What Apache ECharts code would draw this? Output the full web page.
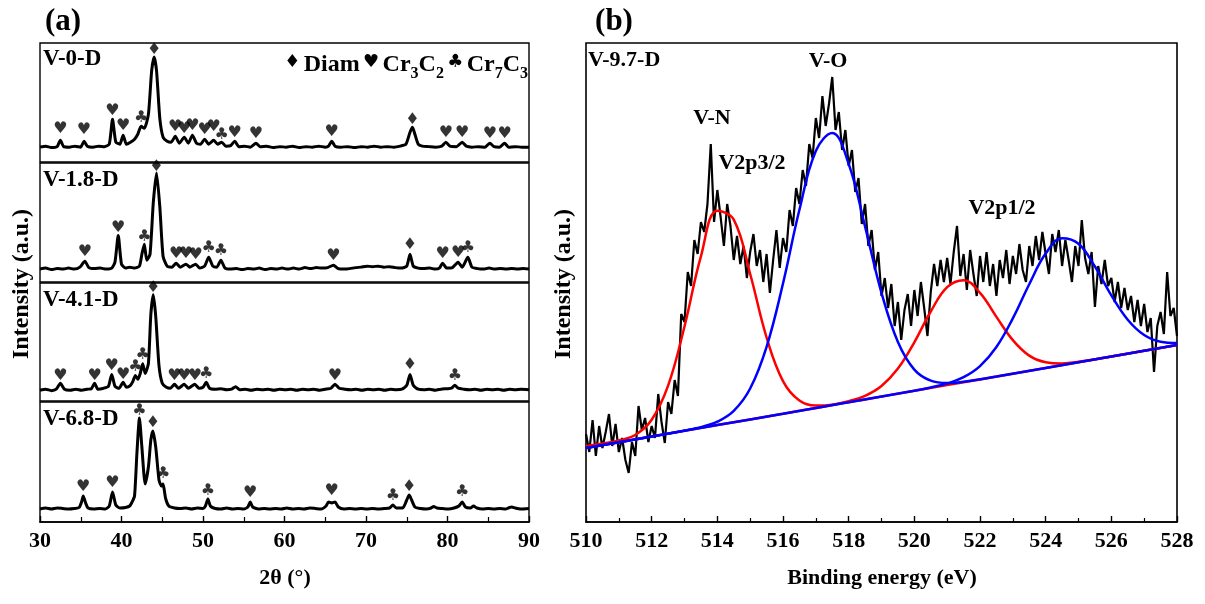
<!DOCTYPE html>
<html><head><meta charset="utf-8">
<script src="https://cdn.jsdelivr.net/npm/echarts/dist/echarts.min.js"></script>
<style>html,body{margin:0;padding:0;background:#fff}#c{width:1205px;height:604px}</style>
</head><body><div id="c"></div><script>
// ---------- Panel (a): XRD patterns, [2theta, intensity a.u.] ----------
const xrdV0D = [[30,15],[30.7,16],[31.4,14.5],[32.1,15.5],[32.5,22],[32.9,15.5],[33.6,15],[34.3,16],[35.0,15],[35.4,21],[35.8,16],[36.5,15],[37.2,16],[37.9,15.5],[38.5,18],[38.9,43],[39.3,20],[39.8,18],[40.2,27],[40.6,18],[41.1,20],[41.6,23],[42.0,28],[42.4,36],[42.8,34],[43.3,48],[43.7,92],[44.0,106],[44.3,92],[44.7,44],[45.1,25],[45.6,21],[46.1,20],[46.6,26],[47.1,19],[47.7,25],[48.2,19],[48.7,27],[49.2,19],[49.7,18],[50.2,23],[50.7,18],[51.3,22],[51.8,18],[52.3,20],[52.8,16],[53.4,16.5],[53.9,21],[54.4,15.5],[55.1,16],[55.8,15],[56.5,19],[57.0,15.5],[57.8,16],[58.6,14.5],[59.4,15.5],[60.2,15],[61.0,16],[61.8,14.5],[62.6,15.5],[63.4,15],[64.2,16],[65.0,15],[65.4,16],[65.8,21],[66.2,16],[66.9,15],[67.8,15.5],[68.6,14.5],[69.4,15.5],[70.2,15],[71.0,16],[71.8,15],[72.6,15.5],[73.4,15],[74.2,16],[74.9,18],[75.4,30],[75.7,35],[76.0,28],[76.4,18],[76.9,16],[77.7,15.5],[78.5,15],[79.3,16],[79.8,20],[80.3,16],[81.1,15.5],[81.8,20],[82.3,16],[83.0,15],[83.8,15.5],[84.6,15],[85.2,19],[85.7,15.5],[86.4,15],[87.0,19],[87.5,15],[88.3,15.5],[89.1,15],[90,15]];
const xrdV18D = [[30,13],[30.7,14],[31.4,12.5],[32.1,13.5],[32.8,13],[33.5,14],[34.2,13],[34.9,15],[35.5,21],[36.0,14.5],[36.7,13.5],[37.4,14],[38.1,13],[38.8,14],[39.2,20],[39.6,47],[40.0,18],[40.5,14],[41.0,15],[41.6,14],[42.2,16],[42.5,28],[42.8,38],[43.1,22],[43.5,28],[43.9,80],[44.3,110],[44.7,76],[45.1,26],[45.6,16],[46.2,15],[46.7,19],[47.2,15],[47.9,18],[48.4,15],[49.1,18],[49.6,14],[50.2,16],[50.7,25],[51.2,16],[51.7,15],[52.2,22],[52.7,14],[53.4,13],[54.1,13.5],[54.8,12.5],[55.5,13.5],[56.2,13],[56.9,14],[57.6,12.5],[58.3,13.5],[59.0,13],[59.7,14],[60.4,13],[61.1,14],[61.8,13],[62.5,14.5],[63.2,13.5],[63.9,14.5],[64.6,14],[65.3,14.5],[66.0,17],[66.6,13.5],[67.3,13],[68.0,13.5],[68.7,14.5],[69.4,15],[70.1,16],[70.8,15.5],[71.5,16],[72.2,15],[72.9,15.5],[73.6,14.5],[74.3,14],[75.0,16],[75.4,28],[75.8,16],[76.4,14],[77.1,13.5],[77.8,14],[78.5,13],[79.0,14],[79.4,19],[79.9,14],[80.6,14.5],[81.3,20],[81.8,15],[82.5,25],[83.0,15],[83.7,13.5],[84.4,13],[85.1,14],[85.8,13],[86.5,13.5],[87.2,13],[87.9,13.5],[88.6,13],[89.3,13.5],[90,13]];
const xrdV41D = [[30,11],[30.7,12],[31.4,10.5],[32.0,12],[32.5,18],[33.0,12],[33.7,11],[34.4,12],[35.1,11],[35.8,12],[36.3,12.5],[36.7,18],[37.1,12],[37.8,13],[38.4,15],[38.8,27],[39.2,15],[39.7,13],[40.2,19],[40.6,14],[41.1,16],[41.4,20],[41.7,26],[42.0,22],[42.3,28],[42.6,38],[42.9,28],[43.3,38],[43.6,88],[43.9,108],[44.2,86],[44.6,36],[45.0,18],[45.5,14],[46.0,13],[46.5,17],[47.0,13],[47.7,17],[48.2,13],[49.0,17],[49.5,13],[50.0,14],[50.4,19],[50.8,13],[51.5,12],[52.2,12.5],[52.9,11.5],[53.5,12],[54.0,14.5],[54.5,11.5],[55.2,12],[55.9,11],[56.6,12],[57.3,11.5],[58.0,12],[58.7,11],[59.4,12],[60.1,11.5],[60.8,12],[61.5,11],[62.2,12],[62.9,11.5],[63.6,12],[64.3,11],[65.0,12],[65.7,13],[66.2,17],[66.7,13],[67.4,12],[68.1,11.5],[68.8,12],[69.5,11],[70.2,12],[70.9,11.5],[71.6,12],[72.3,11],[73.0,12],[73.7,11.5],[74.4,12],[75.0,16],[75.4,27],[75.8,16],[76.4,12],[77.1,11.5],[77.8,12],[78.5,11],[79.2,12],[79.9,12.5],[80.5,13],[80.9,16],[81.3,13],[82.0,12],[82.7,11.5],[83.4,12],[84.1,11],[84.8,12],[85.5,11.5],[86.2,12],[86.9,11],[87.6,12],[88.3,11.5],[89.0,12],[90,11.5]];
const xrdV68D = [[30,13],[30.7,14],[31.4,13],[32.1,14],[32.8,13.5],[33.5,13],[34.2,13.5],[34.8,14.5],[35.1,20],[35.3,26],[35.6,19],[35.9,14],[36.6,13],[37.3,13.5],[38.0,13],[38.5,16],[38.9,30],[39.3,17],[39.8,14],[40.5,14.5],[41.0,16],[41.3,20],[41.6,26],[41.9,70],[42.2,104],[42.5,75],[42.9,38],[43.3,55],[43.6,82],[43.85,91],[44.2,75],[44.6,42],[44.9,36],[45.1,38],[45.4,24],[45.8,16],[46.5,14],[47.2,13.5],[47.9,14],[48.6,13],[49.3,14],[50.0,13.5],[50.3,16],[50.6,23],[50.9,16],[51.5,13.5],[52.2,13],[52.9,14],[53.6,13],[54.3,13.5],[55.0,13],[55.5,15],[55.8,20],[56.1,15],[56.8,13],[57.5,13.5],[58.2,13],[58.9,13.5],[59.6,13],[60.3,14],[61.0,13],[61.7,13.5],[62.4,13],[63.1,14],[63.8,13.5],[64.5,13],[65.1,16],[65.4,20],[65.8,19],[66.2,20],[66.6,15],[67.3,13],[68.0,13.5],[68.7,13],[69.4,13.5],[70.1,13],[70.8,13.5],[71.5,13],[72.2,13.5],[72.9,14],[73.3,17],[73.7,14],[74.5,14],[75.0,22],[75.3,27],[75.6,22],[76.0,15],[76.7,13.5],[77.4,13],[78.0,14],[78.3,15.5],[78.7,14],[79.4,13.5],[80.1,13],[80.8,14],[81.4,16],[81.8,20],[82.2,15],[82.8,14],[83.2,16],[83.6,14],[84.3,13],[85.0,13.5],[85.7,13],[86.4,13.5],[87.1,13],[87.6,14.5],[87.9,15],[88.3,14],[89.0,13],[90,13.5]];

// phase markers: [2theta, intensity, type]  D = Diam, H = Cr3C2, C = Cr7C3
const markV0D = [[32.5,33,'H'],[35.4,32,'H'],[38.9,52,'H'],[40.2,36,'H'],[42.4,45,'C'],[44.0,113,'D'],[46.6,35,'H'],[47.7,33,'H'],[48.7,36,'H'],[50.2,32,'H'],[51.3,35,'H'],[52.3,27,'C'],[53.9,29,'H'],[56.5,28,'H'],[65.8,30,'H'],[75.7,43,'D'],[79.8,29,'H'],[81.8,29,'H'],[85.2,28,'H'],[87.0,28,'H']];
const markV18D = [[35.5,30,'H'],[39.6,55,'H'],[42.8,46,'C'],[44.3,116,'D'],[46.7,28,'H'],[47.9,28,'H'],[49.1,27,'H'],[50.7,34,'C'],[52.2,31,'C'],[66.0,26,'H'],[75.4,37,'D'],[79.4,28,'H'],[81.3,29,'H'],[82.5,34,'C']];
const markV41D = [[32.5,26,'H'],[36.7,26,'H'],[38.8,36,'H'],[40.2,27,'H'],[41.7,35,'C'],[42.6,47,'C'],[43.9,115,'D'],[46.5,26,'H'],[47.7,26,'H'],[49.0,26,'H'],[50.4,28,'C'],[66.2,26,'H'],[75.4,37,'D'],[80.9,26,'C']];
const markV68D = [[35.3,35,'H'],[38.9,39,'H'],[42.2,111,'C'],[43.85,99,'D'],[45.1,48,'C'],[50.6,31,'C'],[55.8,29,'H'],[65.8,31,'H'],[73.3,26,'C'],[75.3,35,'D'],[81.8,30,'C']];

const sampleNames = ['V-0-D','V-1.8-D','V-4.1-D','V-6.8-D'];
const xrdTicks = [30,40,50,60,70,80,90];

// ---------- Panel (b): XPS V2p, sample V-9.7-D ----------
const xpsStart = 510, xpsStep = 0.1;
const xpsRaw = [88,70,102,66,96,74,90,108,76,98,70,84,62,49,80,66,116,92,104,80,
96,84,128,100,79,120,108,142,126,208,200,250,236,282,268,300,290,318,378,300,
332,305,276,318,296,262,286,258,276,244,270,288,256,272,240,268,229,262,292,254,
284,270,312,296,334,318,352,336,378,364,404,384,426,396,418,445,392,410,372,392,
356,372,330,344,298,318,276,292,252,270,226,244,214,238,196,220,182,212,228,196,
232,206,240,214,186,230,258,236,262,240,264,238,270,296,246,268,232,272,248,226,
266,240,270,236,258,226,262,244,272,238,266,248,278,252,240,276,256,286,262,290,
268,248,288,270,292,256,282,262,240,276,256,302,264,248,270,215,256,238,262,236,
244,220,240,214,234,212,226,200,222,196,218,190,204,150,196,210,188,250,206,214,186];
// fitted components incl. linear background, [binding energy, intensity]
const fitVN32 = [[510,76],[510.5,78.5],[511,81.5],[511.5,87.0],[512,102.2],[512.5,136.3],[513,195.5],[513.5,265.7],[514,311.2],[514.5,302.4],[515,248.0],[515.5,184.5],[516,140.9],[516.5,121.4],[517,116.4],[517.5,117.3],[518.5,122.6],[520,131.2],[522,142.6],[524,154.1],[526,165.5],[528,177]];
const fitVO32 = [[510,74],[512,85.4],[513.5,94.9],[514,100.3],[514.5,111.1],[515,133.5],[515.5,175.2],[516,238.5],[516.5,312.2],[517,371.0],[517.5,388.9],[518,358.1],[518.5,295.4],[519,229.2],[519.5,180.0],[520,152.4],[520.5,141.3],[521,138.9],[521.5,140.3],[522.5,145.5],[524,154.1],[526,165.5],[528,177]];
const fitVN12 = [[510,74],[512,85.4],[514,96.9],[516,108.3],[517.5,117.1],[518,120.8],[518.5,126.2],[519,136.0],[519.5,153.4],[520,179.7],[520.5,210.5],[521,234.8],[521.5,241.8],[522,229.1],[522.5,205.1],[523,181.9],[523.5,166.4],[524,159.8],[524.5,158.6],[525,160.2],[526,165.5],[527,171.2],[528,177]];
const fitVO12 = [[510,74],[512,85.4],[514,96.9],[516,108.3],[518,119.8],[520,131.2],[520.5,134.5],[521,138.5],[521.5,144.8],[522,155.9],[522.5,175.0],[523,203.6],[523.5,237.8],[524,268.4],[524.5,283.8],[525,278.2],[525.5,255.5],[526,226.7],[526.5,202.3],[527,187.0],[527.5,180.3],[528,179]];

// ---------- build ----------
const SERIF = '"Liberation Serif","Times New Roman",serif';
const glyph = {D:'\u2666', H:'\u2665', C:'\u2663'};
const xrdSets = [xrdV0D, xrdV18D, xrdV41D, xrdV68D];
const markSets = [markV0D, markV18D, markV41D, markV68D];
const gTop = [43,163,283,402], gH = [119,119,118,120];

const grids = [], xAxes = [], yAxes = [], series = [];
for (let i = 0; i < 4; i++) {
  grids.push({left:40, width:489, top:gTop[i], height:gH[i], show:true, borderColor:'#000', borderWidth:1.4, backgroundColor:'rgba(0,0,0,0)'});
  const last = i === 3;
  xAxes.push({gridIndex:i, type:'value', min:30, max:90, interval:10, show:last,
    axisLine:{show:true, lineStyle:{color:'#000', width:1.6}},
    axisTick:{show:true, inside:true, length:6, lineStyle:{color:'#000', width:1.4}},
    minorTick:{show:true, splitNumber:2, length:5, lineStyle:{color:'#000', width:1.2}},
    splitLine:{show:false},
    axisLabel:{show:true, margin:8, color:'#000', fontFamily:SERIF, fontWeight:'bold', fontSize:22,
      formatter:v => xrdTicks.includes(v) ? String(v) : ''}});
  yAxes.push({gridIndex:i, type:'value', min:0, max:120, show:false});
  series.push({type:'line', xAxisIndex:i, yAxisIndex:i, data:xrdSets[i], symbol:'none', smooth:0.2,
    lineStyle:{color:'#000', width:3}, silent:true, z:2});
  series.push({type:'scatter', xAxisIndex:i, yAxisIndex:i, symbolSize:0.1, silent:true, z:3,
    itemStyle:{color:'rgba(0,0,0,0)'},
    data:markSets[i].map(m => ({value:[m[0], m[1]], name:m[2]})),
    label:{show:true, position:'inside', formatter:p => glyph[p.name], color:'#000',
      fontFamily:'"DejaVu Sans",sans-serif', fontSize:16, fontWeight:'bold'}});
}
// panel b
grids.push({left:586, width:591, top:43, height:479, show:true, borderColor:'#000', borderWidth:1.6, backgroundColor:'rgba(0,0,0,0)'});
xAxes.push({gridIndex:4, type:'value', min:510, max:528, interval:2,
  axisLine:{show:true, lineStyle:{color:'#000', width:1.6}},
  axisTick:{show:true, inside:true, length:6, lineStyle:{color:'#000', width:1.4}},
  minorTick:{show:true, splitNumber:2, length:4, lineStyle:{color:'#000', width:1.2}},
  splitLine:{show:false},
  axisLabel:{margin:8, color:'#000', fontFamily:SERIF, fontWeight:'bold', fontSize:22}});
yAxes.push({gridIndex:4, type:'value', min:0, max:479, show:false});
series.push({type:'line', xAxisIndex:4, yAxisIndex:4, symbol:'none', silent:true,
  data:xpsRaw.map((v,k) => [+(xpsStart + k*xpsStep).toFixed(2), v]),
  lineStyle:{color:'#000', width:2.2}, z:2});
const fits = [[fitVN32,'#ff0000'],[fitVN12,'#ff0000'],[fitVO32,'#0000ff'],[fitVO12,'#0000ff']];
fits.forEach(f => series.push({type:'line', xAxisIndex:4, yAxisIndex:4, symbol:'none', silent:true,
  smooth:0.4, data:f[0], lineStyle:{color:f[1], width:2.5}, z:3}));

const txt = (t, x, y, size, align, extra) => Object.assign({type:'text', x, y, silent:true, z:10,
  style:{text:t, fill:'#000', font:'bold ' + size + 'px ' + SERIF, textAlign:align || 'left', textVerticalAlign:'middle'}}, extra || {});

const graphics = [
  txt('(a)', 63, 22, 31, 'center'),
  txt('(b)', 614, 22, 31, 'center'),
  txt(sampleNames[0], 43, 59, 23),
  txt(sampleNames[1], 43, 180, 23),
  txt(sampleNames[2], 43, 300, 23),
  txt(sampleNames[3], 43, 419, 23),
  txt('V-9.7-D', 588, 60, 22),
  txt('V-O', 828, 61, 22, 'center'),
  txt('V-N', 712, 118, 22, 'center'),
  txt('V2p3/2', 752, 163, 22, 'center'),
  txt('V2p1/2', 1002, 208, 22, 'center'),
  txt('2\u03b8 (\u00b0)', 285, 578, 22, 'center'),
  txt('Binding energy (eV)', 882, 578, 22, 'center'),
  txt('Intensity (a.u.)', 22, 284, 24, 'center', {rotation:Math.PI/2}),
  txt('Intensity (a.u.)', 564, 284, 24, 'center', {rotation:Math.PI/2}),
  {type:'text', x:528, y:66, silent:true, z:10, style:{
    text:'{g|\u2666} {b|Diam} {g|\u2665} {b|Cr}{s|3}{b|C}{s|2} {g|\u2663} {b|Cr}{s|7}{b|C}{s|3}',
    textAlign:'right', textVerticalAlign:'middle', fill:'#000',
    rich:{
      g:{fontFamily:'"DejaVu Sans",sans-serif', fontSize:18, lineHeight:26, verticalAlign:'top', fill:'#000'},
      b:{fontFamily:SERIF, fontWeight:'bold', fontSize:24, lineHeight:26, verticalAlign:'top', fill:'#000'},
      s:{fontFamily:SERIF, fontWeight:'bold', fontSize:16, lineHeight:16, padding:[13,0,0,0], verticalAlign:'top', fill:'#000'}
    }}}
];

const chart = echarts.init(document.getElementById('c'), null, {renderer:'canvas'});
chart.setOption({backgroundColor:'#fff', animation:false, grid:grids, xAxis:xAxes, yAxis:yAxes, series, graphic:graphics});
</script></body></html>
